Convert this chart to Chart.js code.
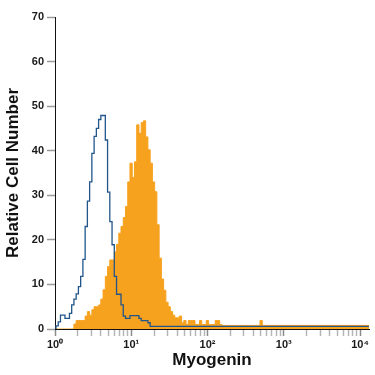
<!DOCTYPE html>
<html>
<head>
<meta charset="utf-8">
<script src="https://cdn.jsdelivr.net/npm/chart.js@4.4.1/dist/chart.umd.min.js"></script>
<style>
  html, body { margin: 0; padding: 0; background: #fff; }
  canvas { display: block; }
</style>
</head>
<body>
<canvas id="histChart" width="375" height="375"></canvas>
<script>
// Flow cytometry overlay: isotype control (blue outline) vs Myogenin staining (orange fill).

// Histogram channels are evenly spaced in log10 units, starting just right of 10^0.
const BIN_LOG_START = 0.013;
const BIN_LOG_WIDTH = 0.0294;
const X_MIN = 1;
const X_MAX = 13100;

// Isotype control counts per channel, then the flat tail out to the axis end.
const isotypeCounts = [
  0.7, 1.6, 3.1, 3.1, 2.4, 2.4, 3.5, 5.4, 6.7, 7.9,
  9.5, 11.8, 15.6, 23, 28.7, 33, 39.4, 43.2, 45, 47,
  47.9, 47.9, 42.4, 30.7, 24.1, 18.9, 11.8, 7.8, 7.8, 5.4,
  2.9, 2.4, 2.4, 3.0, 3.0, 3.0, 3.0, 2.4, 1.9, 1.9,
  1.9, 1.4,
];
const isotypeTail = 0.6;

// Myogenin-stained counts per channel, then the flat tail.
const myogeninCounts = [
  0, 0, 0, 0, 0, 0, 0, 0, 1.1, 1.9,
  1.9, 1.9, 1.9, 2.9, 3.9, 3.1, 4.3, 5.0, 5.0, 5.4,
  6.7, 8.8, 11.8, 14, 15.5, 15.5, 17.3, 19, 21.5, 23,
  25, 27.5, 33, 37.2, 34, 37.5, 45.8, 43.9, 46.3, 46.7,
  43.1, 40.2, 37.2, 33, 30.8, 23.4, 15.9, 11.2, 8.7, 6.0,
  5.0, 3.9, 3.1, 2.5, 2.5, 2.9, 1.4, 1.9, 1.0, 1.9,
  1.9, 1.9, 1.0, 1.0, 1.9, 1.0, 1.0, 1.9, 1.0, 1.0,
  1.0, 1.9, 1.9, 1.0, 0.8, 0.8, 0.8, 0.8, 0.8, 0.8,
  0.8, 0.8, 0.8, 0.8, 0.8, 0.8, 0.8, 0.8, 0.8, 0.8,
  0.8, 1.9,
];
const myogeninTail = 0.8;

const yTicks = [0, 10, 20, 30, 40, 50, 60, 70];
const decadeLabels = ['10⁰', '10¹', '10²', '10³', '10⁴'];

const BLUE = '#22568a';
const ORANGE = '#f7a21f';
const FONT = "'Liberation Sans', Arial, sans-serif";

function binEdge(i) {
  return Math.pow(10, BIN_LOG_START + i * BIN_LOG_WIDTH);
}

// Stepped ("before") lines hold each value until the next point, so points sit on left edges.
function histPoints(counts, tail) {
  const pts = [{ x: binEdge(0), y: 0 }];
  counts.forEach((c, i) => pts.push({ x: binEdge(i), y: c }));
  pts.push({ x: binEdge(counts.length), y: tail });
  pts.push({ x: X_MAX, y: tail });
  return pts;
}

function logTickValues() {
  const out = [];
  for (let d = 0; d < 4; d++) {
    for (let m = 1; m < 10; m++) out.push(m * Math.pow(10, d));
  }
  out.push(10000);
  return out;
}

const isDecade = (v) => Math.abs(Math.log10(v) - Math.round(Math.log10(v))) < 1e-9;

const ctx = document.getElementById('histChart').getContext('2d');
new Chart(ctx, {
  type: 'line',
  data: {
    datasets: [
      {
        label: 'Isotype',
        data: histPoints(isotypeCounts, isotypeTail),
        stepped: true,
        borderColor: BLUE,
        borderWidth: 1.3,
        pointRadius: 0,
        fill: false,
        order: 1,
      },
      {
        label: 'Myogenin',
        data: histPoints(myogeninCounts, myogeninTail),
        stepped: true,
        borderColor: ORANGE,
        backgroundColor: ORANGE,
        borderWidth: 1,
        pointRadius: 0,
        fill: 'origin',
        order: 2,
      },
    ],
  },
  options: {
    responsive: false,
    animation: false,
    devicePixelRatio: 1,
    layout: { padding: { top: 17, right: 6, left: 0, bottom: 0 } },
    plugins: { legend: { display: false }, tooltip: { enabled: false } },
    scales: {
      x: {
        type: 'logarithmic',
        min: X_MIN,
        max: X_MAX,
        afterFit: (scale) => { scale.height = 46; },
        afterBuildTicks: (scale) => {
          scale.ticks = logTickValues().map((v) => ({ value: v, major: isDecade(v) }));
        },
        border: { display: true, color: '#111', width: 1 },
        grid: {
          display: true,
          drawOnChartArea: false,
          drawTicks: true,
          tickLength: 7,
          tickColor: (c) => (c.tick && c.tick.major ? '#8a8a8a' : '#b5b5b5'),
          tickWidth: 1.5,
        },
        ticks: {
          autoSkip: false,
          maxRotation: 0,
          padding: 2,
          color: '#1a1a1a',
          font: { family: FONT, size: 11, weight: 'bold' },
          callback: (v) => (isDecade(v) ? decadeLabels[Math.round(Math.log10(v))] : ''),
        },
        title: {
          display: true,
          text: 'Myogenin',
          color: '#111',
          font: { family: FONT, size: 17, weight: 'bold' },
          padding: { top: 0, bottom: 4 },
        },
      },
      y: {
        min: 0,
        max: 70,
        afterFit: (scale) => { scale.width = 55; },
        afterBuildTicks: (scale) => {
          scale.ticks = yTicks.map((v) => ({ value: v }));
        },
        border: { display: true, color: '#111', width: 1 },
        grid: {
          display: true,
          drawOnChartArea: false,
          drawTicks: true,
          tickLength: 8,
          tickColor: '#9a9a9a',
          tickWidth: 1.5,
        },
        ticks: {
          padding: 3,
          color: '#1a1a1a',
          font: { family: FONT, size: 11, weight: 'bold' },
        },
        title: {
          display: true,
          text: 'Relative Cell Number',
          color: '#111',
          font: { family: FONT, size: 17, weight: 'bold' },
          padding: { top: 3, bottom: 0 },
        },
      },
    },
  },
});
</script>
</body>
</html>
